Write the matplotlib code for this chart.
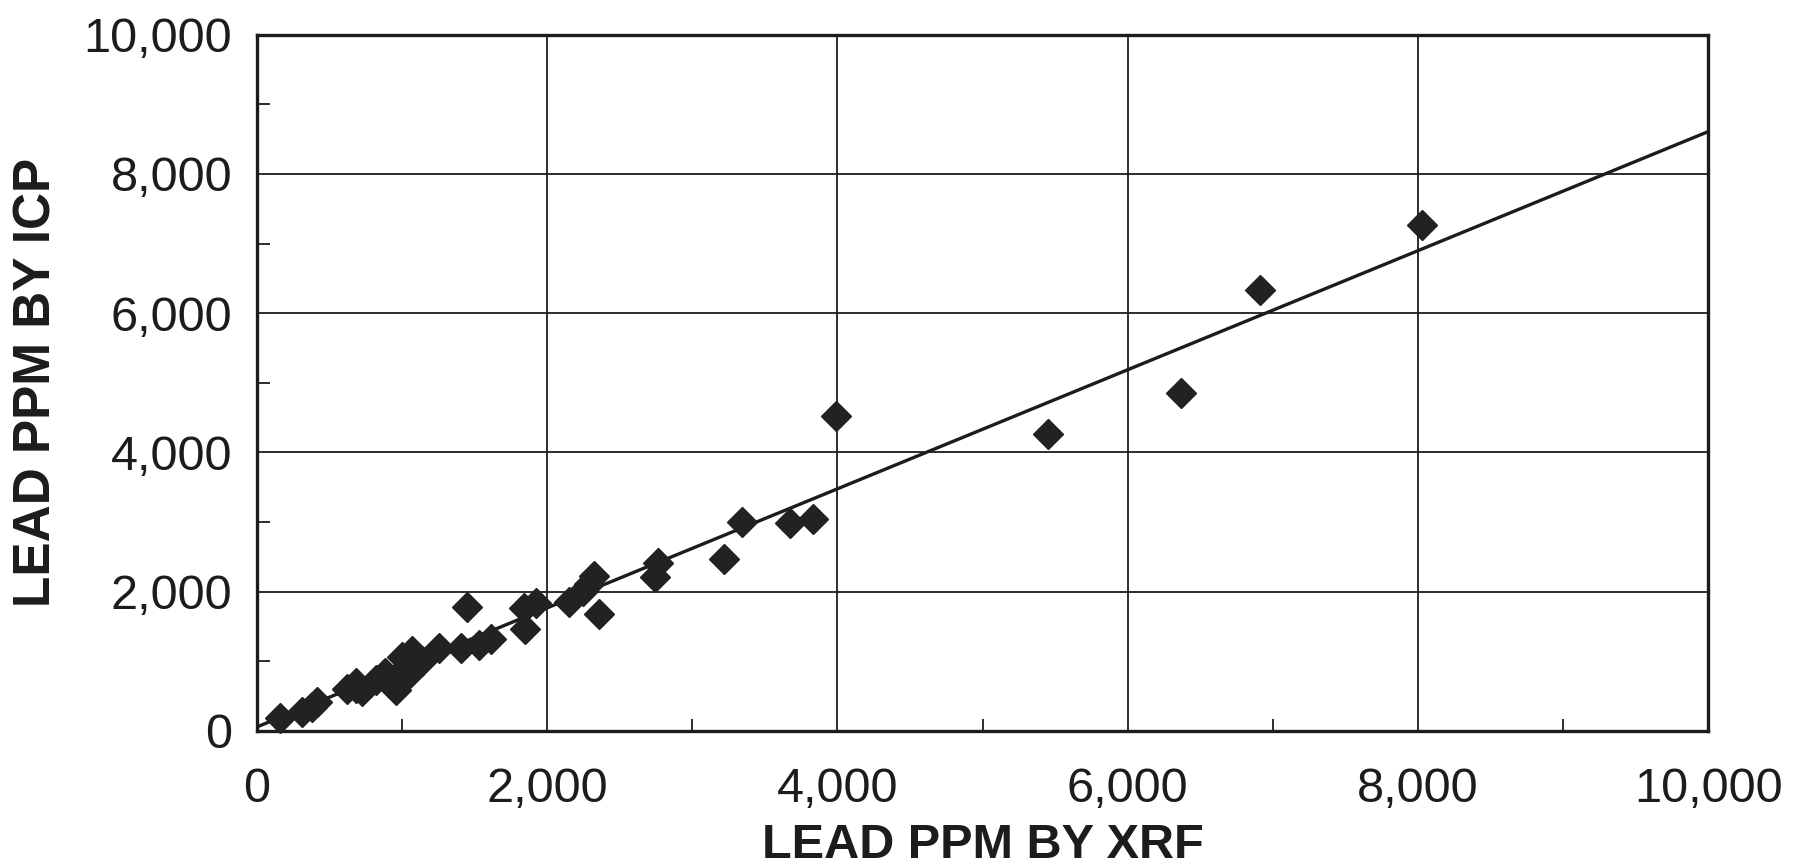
import matplotlib
matplotlib.use("Agg")
import matplotlib.pyplot as plt
import numpy as np
from matplotlib.ticker import MultipleLocator, FuncFormatter

# Lead by XRF (x) vs lead by ICP (y), ppm
xrf_ppm = [160, 310, 380, 415, 620, 680, 725, 680, 818, 885, 933, 955,
           1000, 1025, 1050, 1070, 1140, 1255, 1405, 1450, 1530, 1610,
           1840, 1850, 1920, 2150, 2245, 2290, 2325, 2360, 2740, 2760,
           3220, 3345, 3670, 3830, 3990, 5450, 6370, 6910, 8030]
icp_ppm = [185, 275, 345, 415, 600, 620, 570, 690, 733, 825, 730, 585,
           1060, 917, 820, 1150, 1010, 1195, 1190, 1780, 1230, 1325,
           1770, 1460, 1840, 1855, 2015, 2110, 2230, 1680, 2215, 2405,
           2470, 3000, 2985, 3050, 4520, 4260, 4860, 6330, 7265]

# Trend line
fit_slope = 0.855
fit_intercept = 57
fit_x_range = [0, 10000]

x_ticks = [0, 2000, 4000, 6000, 8000, 10000]
y_ticks = [0, 2000, 4000, 6000, 8000, 10000]
x_label = "LEAD PPM BY XRF"
y_label = "LEAD PPM BY ICP"

plt.rcParams['font.family'] = ['Liberation Sans', 'DejaVu Sans']

fig = plt.figure(figsize=(18.05, 8.67), dpi=100)
ax = fig.add_axes([0.1424, 0.157, 0.8039, 0.803])

ink = '#1c1c1c'

ax.set_xlim(0, 10000)
ax.set_ylim(0, 10000)

ax.set_xticks(x_ticks)
ax.set_yticks(y_ticks)
ax.xaxis.set_minor_locator(MultipleLocator(1000))
ax.yaxis.set_minor_locator(MultipleLocator(1000))
fmt = FuncFormatter(lambda v, p: f"{int(v):,}")
ax.xaxis.set_major_formatter(fmt)
ax.yaxis.set_major_formatter(fmt)

ax.grid(True, which='major', color=ink, linewidth=1.3, zorder=1)
ax.tick_params(which='major', length=0, labelsize=35, colors=ink)
ax.tick_params(axis='x', which='major', pad=26)
ax.tick_params(axis='y', which='major', pad=18)
ax.tick_params(which='minor', direction='in', length=9, width=1.3,
               color=ink, top=False, right=False)

for s in ax.spines.values():
    s.set_linewidth(2.4)
    s.set_color(ink)

lx = np.array(fit_x_range, dtype=float)
ax.plot(lx, fit_slope * lx + fit_intercept, color=ink, linewidth=2.4,
        zorder=3, clip_on=True)

ax.plot(xrf_ppm, icp_ppm, linestyle='none', marker='D', markersize=15.5,
        markerfacecolor='#222222', markeredgecolor='#222222', zorder=4,
        clip_on=False)

ax.set_xlabel(x_label, fontsize=35, fontweight='bold', color=ink, labelpad=8)
ax.set_ylabel(y_label, fontsize=37, fontweight='bold', color=ink, labelpad=16)

fig.savefig("out.png", dpi=100, facecolor='white')
